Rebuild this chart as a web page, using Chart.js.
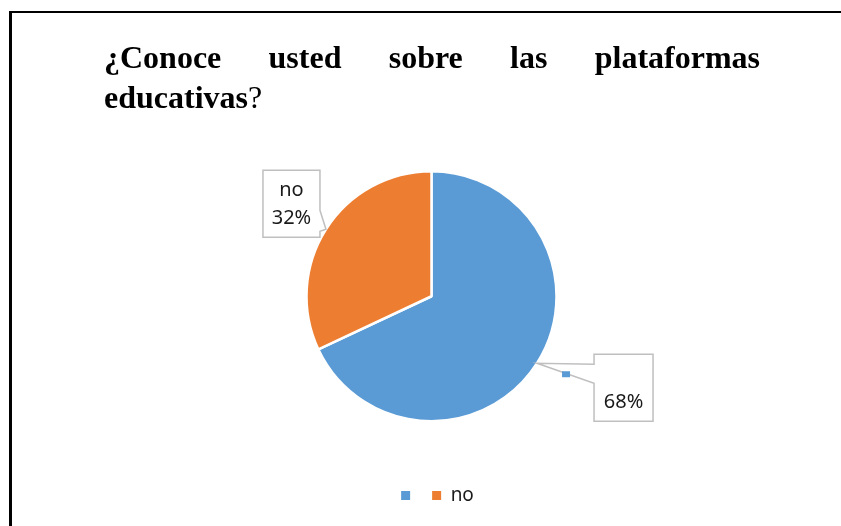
<!DOCTYPE html>
<html>
<head>
<meta charset="utf-8">
<script src="https://cdn.jsdelivr.net/npm/chart.js@4.4.1/dist/chart.umd.min.js"></script>
<style>
  html, body { margin: 0; padding: 0; background: #fff; }
  #page { position: relative; width: 841px; height: 526px; overflow: hidden; }
  #frame { position: absolute; left: 9px; top: 11px; right: -5px; bottom: -5px;
           border-left: 3px solid #000; border-top: 2px solid #000; }
  #title { position: absolute; left: 104px; top: 37px; width: 656px;
           font-family: "Liberation Serif", "Times New Roman", serif; font-size: 32px;
           line-height: 40px; text-align: justify; color: #000; }
  #title b { font-weight: bold; }
  #chartBox { position: absolute; left: 0; top: 0; width: 841px; height: 526px; }
  #pieChart { display: block; }
</style>
</head>
<body>
<div id="page">
  <div id="frame"></div>
  <div id="chartBox"><canvas id="pieChart" width="841" height="526"></canvas></div>
  <div id="title"><b>¿Conoce usted sobre las plataformas educativas</b>?</div>
</div>
<script>
// Chart data
const categories = ['', 'no'];
const values = [68, 32];
const pctLabels = ['68%', '32%'];
const sliceColors = ['#5B9BD5', '#ED7D31'];

// Callout boxes, relative to the point where the label points on the pie edge
const callouts = [
    { box: [57, -9, 116, 58], base: [1, 20], side: 'left', key: [25, 8] },
    { box: [-63, -59, -6, 8], base: [-19, 2], side: 'right' }
];

const calloutPlugin = {
    id: 'callouts',
    afterLayout(chart) {
        // legend sits a little right of the pie centre in the original
        chart.legend.left += 6;
        chart.legend.right += 6;
    },
    afterDatasetsDraw(chart) {
        const ctx = chart.ctx;
        const meta = chart.getDatasetMeta(0);
        meta.data.forEach((arc, i) => {
            const p = arc.getProps(['x', 'y', 'startAngle', 'endAngle', 'outerRadius'], true);
            const mid = (p.startAngle + p.endAngle) / 2;
            const tx = p.x + Math.cos(mid) * p.outerRadius;
            const ty = p.y + Math.sin(mid) * p.outerRadius;
            const c = callouts[i];
            const x1 = tx + c.box[0], y1 = ty + c.box[1], x2 = tx + c.box[2], y2 = ty + c.box[3];

            ctx.save();
            ctx.beginPath();
            if (c.side === 'left') {
                ctx.moveTo(x1, y1);
                ctx.lineTo(x2, y1);
                ctx.lineTo(x2, y2);
                ctx.lineTo(x1, y2);
                ctx.lineTo(x1, ty + c.base[1]);
                ctx.lineTo(tx, ty);
                ctx.lineTo(x1, ty + c.base[0]);
            } else {
                ctx.moveTo(x1, y1);
                ctx.lineTo(x2, y1);
                ctx.lineTo(x2, ty + c.base[0]);
                ctx.lineTo(tx, ty);
                ctx.lineTo(x2, ty + c.base[1]);
                ctx.lineTo(x2, y2);
                ctx.lineTo(x1, y2);
            }
            ctx.closePath();
            ctx.fillStyle = '#ffffff';
            ctx.fill();
            ctx.strokeStyle = '#BFBFBF';
            ctx.lineWidth = 1.5;
            ctx.stroke();

            // label text: category on first line, percentage below
            const cx = (x1 + x2) / 2;
            const midY = (y1 + y2) / 2;
            ctx.fillStyle = '#1a1a1a';
            ctx.font = '20px "Noto Sans", "Open Sans", sans-serif';
            ctx.textAlign = 'center';
            ctx.textBaseline = 'middle';
            ctx.fillText(categories[i], cx, midY - 13);
            ctx.fillText(pctLabels[i], cx, midY + 15);
            if (c.key) {
                ctx.fillStyle = sliceColors[i];
                ctx.fillRect(tx + c.key[0], ty + c.key[1], 8, 6);
            }
            ctx.restore();
        });
    }
};

const ctx = document.getElementById('pieChart').getContext('2d');
const pieChart = new Chart(ctx, {
    type: 'pie',
    data: {
        labels: categories,
        datasets: [{
            data: values,
            backgroundColor: sliceColors,
            borderColor: '#ffffff',
            borderWidth: 2.5
        }]
    },
    options: {
        responsive: false,
        animation: false,
        devicePixelRatio: 1,
        radius: 125,
        layout: {
            padding: { top: 119, bottom: 11, left: 22, right: 0 }
        },
        plugins: {
            legend: {
                position: 'bottom',
                labels: {
                    boxWidth: 9,
                    boxHeight: 9,
                    padding: 12.5,
                    color: '#1a1a1a',
                    font: { size: 19, family: '"Noto Sans", "Open Sans", sans-serif' },
                    generateLabels(chart) {
                        // same items as the pie default, without the white slice border
                        return categories.map((label, i) => ({
                            text: label,
                            fillStyle: sliceColors[i],
                            strokeStyle: sliceColors[i],
                            fontColor: '#1a1a1a',
                            lineWidth: 0,
                            hidden: !chart.getDataVisibility(i),
                            index: i
                        }));
                    }
                }
            },
            tooltip: { enabled: false }
        }
    },
    plugins: [calloutPlugin]
});
</script>
</body>
</html>
